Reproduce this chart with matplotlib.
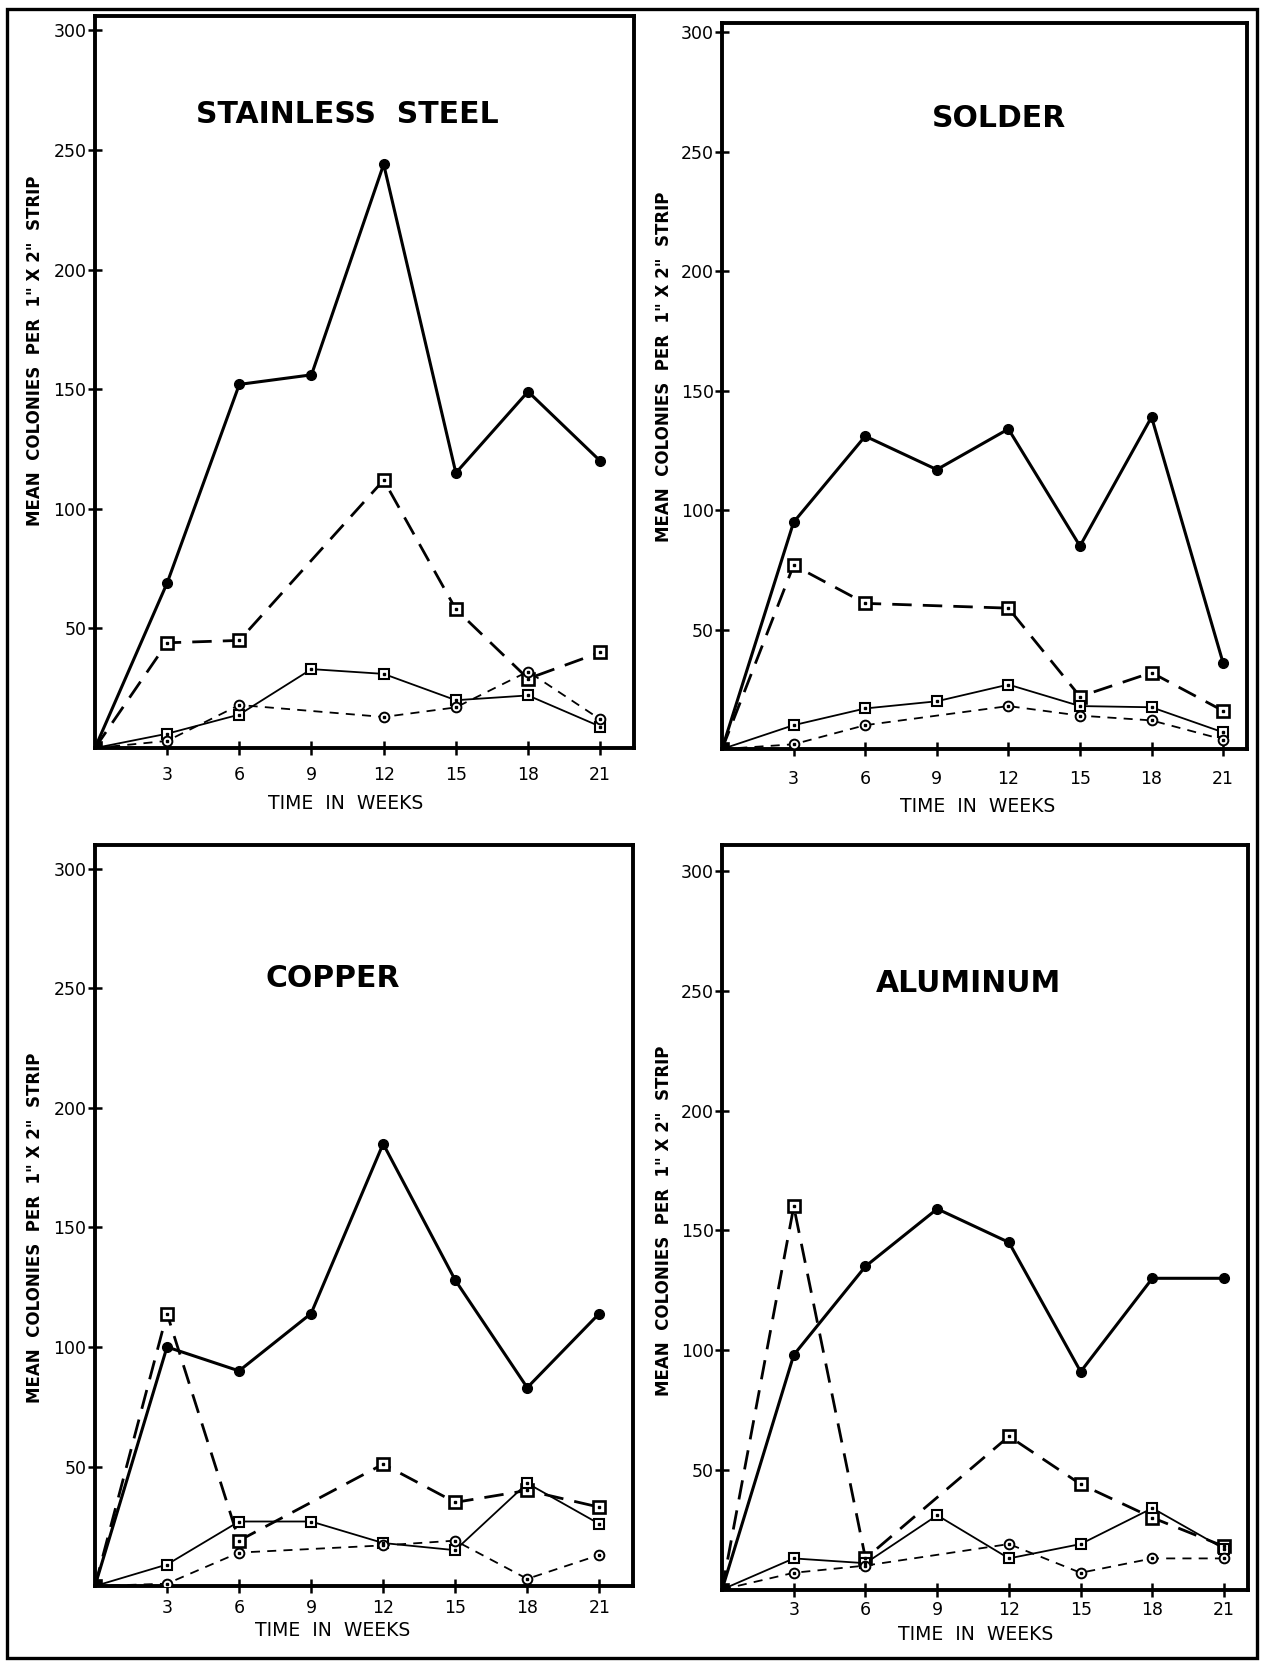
import numpy as np
import matplotlib
matplotlib.use("Agg")
import matplotlib.pyplot as plt
from matplotlib.patches import Rectangle

nan = np.nan

# weeks of exposure
weeks = [0, 3, 6, 9, 12, 15, 18, 21]
y_ticks = [50, 100, 150, 200, 250, 300]

# mean colonies per strip (nan = no point plotted)
steel_a = [0, 69, 152, 156, 244, 115, 149, 120]
steel_b = [0, 44, 45, nan, 112, 58, 29, 40]
steel_c = [0, 6, 14, 33, 31, 20, 22, 9]
steel_d = [0, 3, 18, nan, 13, 17, 32, 12]

solder_a = [0, 95, 131, 117, 134, 85, 139, 36]
solder_b = [0, 77, 61, nan, 59, 22, 32, 16]
solder_c = [0, 10, 17, 20, 27, 18, 17.5, 7]
solder_d = [0, 2, 10, nan, 18, 14, 12, 4]

copper_a = [0, 100, 90, 114, 185, 128, 83, 114]
copper_b = [0, 114, 19, nan, 51, 35, 40, 33]
copper_c = [0, 9, 27, 27, 18, 15, 43, 26]
copper_d = [0, 1, 14, nan, 17, 19, 3, 13]

alum_a = [0, 98, 135, 159, 145, 91, 130, 130]
alum_b = [0, 160, 13, nan, 64, 44, 30, 18]
alum_c = [0, 13, 11, 31, 13, 19, 34, 17]
alum_d = [0, 7, 10, nan, 19, 7, 13, 13]

titles = ["STAINLESS  STEEL", "SOLDER", "COPPER", "ALUMINUM"]
ylabel = 'MEAN  COLONIES  PER  1" X 2"  STRIP'
xlabel = "TIME  IN  WEEKS"

fig = plt.figure(figsize=(12.61, 16.62), dpi=100)

# panel boxes in figure fractions, plus where the texts sit
panels = [
    dict(rect=[0.0753, 0.5499, 0.4274, 0.4405], ylim=306, xlim=22.4,
         data=(steel_a, steel_b, steel_c, steel_d), title_xy=(10.5, 265),
         ylab_y=166, xlab_x=10.4, xlab_off=46, tick_pad=8),
    dict(rect=[0.5726, 0.5493, 0.4163, 0.4369], ylim=304, xlim=22.0,
         data=(solder_a, solder_b, solder_c, solder_d), title_xy=(11.6, 264),
         ylab_y=160, xlab_x=10.7, xlab_off=48, tick_pad=10),
    dict(rect=[0.0753, 0.0457, 0.4266, 0.4459], ylim=310, xlim=22.4,
         data=(copper_a, copper_b, copper_c, copper_d), title_xy=(9.9, 254),
         ylab_y=150, xlab_x=9.9, xlab_off=35, tick_pad=4),
    dict(rect=[0.5726, 0.0436, 0.4171, 0.4480], ylim=311, xlim=22.0,
         data=(alum_a, alum_b, alum_c, alum_d), title_xy=(10.3, 253),
         ylab_y=154, xlab_x=10.6, xlab_off=35, tick_pad=3),
]

x = np.array(weeks)

for p, title in zip(panels, titles):
    ax = fig.add_axes(p["rect"])
    a, b, c, d = [np.array(s, dtype=float) for s in p["data"]]

    def draw(y, **kw):
        m = ~np.isnan(y)
        return ax.plot(x[m], y[m], **kw)

    # solid heavy line, filled dots
    draw(a, color="black", lw=2.2, marker="o", ms=7, mfc="black", zorder=4)
    # heavy dashed line, dotted squares
    draw(b, color="black", lw=2.0, dashes=(7, 4), marker="s", ms=8.5,
         mfc="white", mew=1.9, zorder=3)
    # light solid line, dotted squares
    draw(c, color="black", lw=1.3, marker="s", ms=7, mfc="white", mew=1.5,
         zorder=3)
    # light dashed line, open circles
    draw(d, color="black", lw=1.3, dashes=(5, 4), marker="o", ms=7,
         mfc="white", mew=1.4, zorder=3)
    # little centre dots in the open symbols
    for y in (b, c, d):
        m = ~np.isnan(y)
        m[0] = False
        ax.plot(x[m], y[m], ls="none", marker="s", ms=1.6, color="black",
                zorder=5)

    ax.set_xlim(0, p["xlim"])
    ax.set_ylim(0, p["ylim"])
    ax.set_xticks(weeks[1:])
    ax.set_yticks(y_ticks)
    ax.tick_params(direction="inout", length=10, width=1.8, labelsize=12.5,
                   pad=p["tick_pad"])
    ax.tick_params(axis="y", pad=1)
    for sp in ax.spines.values():
        sp.set_linewidth(2.8)

    ax.text(p["title_xy"][0], p["title_xy"][1], title, ha="center",
            va="center", fontsize=21.5, fontweight="heavy")

    ax.set_ylabel(ylabel, fontsize=12, fontweight="bold")
    ax.yaxis.set_label_coords(-0.094, p["ylab_y"] / p["ylim"])

    h_px = p["rect"][3] * fig.get_figheight() * fig.dpi
    ax.set_xlabel(xlabel, fontsize=13.5)
    ax.xaxis.set_label_coords(p["xlab_x"] / p["xlim"], -p["xlab_off"] / h_px)

# frame round the whole plate
fig.patches.append(Rectangle((0.0056, 0.0024), 0.9912, 0.9922,
                             transform=fig.transFigure, fill=False,
                             lw=2.4, color="black"))

fig.savefig("out.png", dpi=100, facecolor="white")
